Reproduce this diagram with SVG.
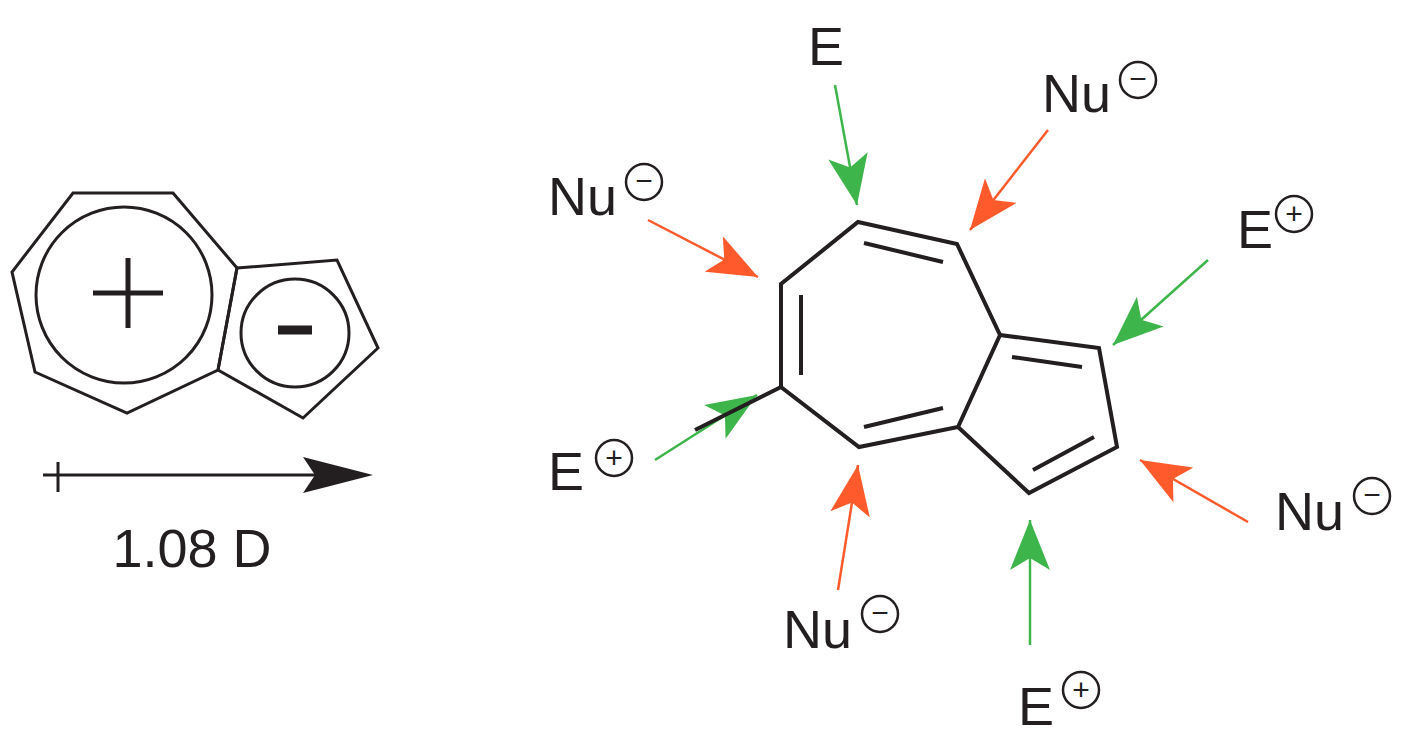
<svg xmlns="http://www.w3.org/2000/svg" width="1403" height="744" viewBox="0 0 1403 744">
<defs>
<style>
.b{fill:none;stroke:#231f20;stroke-width:4;stroke-linejoin:miter}
.t{font-family:"Liberation Sans",Arial,sans-serif;font-size:54px;fill:#231f20}
.c{fill:none;stroke:#231f20;stroke-width:2.5}
.s{font-family:"Liberation Sans",Arial,sans-serif;font-size:30px;fill:#231f20;text-anchor:middle}
.g{stroke:#3db54a;stroke-width:2.5}
.r{stroke:#ff5a2c;stroke-width:2.5}
</style>
<marker id="hg" viewBox="0 0 50 40" refX="50" refY="20" markerWidth="50" markerHeight="40" markerUnits="userSpaceOnUse" orient="auto"><path d="M0,0 L50,20 L0,40 L12,20 Z" fill="#3db54a"/></marker>
<marker id="hr" viewBox="0 0 50 40" refX="50" refY="20" markerWidth="50" markerHeight="40" markerUnits="userSpaceOnUse" orient="auto"><path d="M0,0 L50,20 L0,40 L12,20 Z" fill="#ff5a2c"/></marker>
</defs>
<rect width="1403" height="744" fill="#fff"/>
<g id="left-azulene">
<polygon class="b" style="stroke-width:3" points="73,193 173,193 237,268 218,370 127,413 35,372 12,272"/>
<polygon class="b" style="stroke-width:3" points="237,268 337,260 378,348 303,418 218,370"/>
<circle class="b" style="stroke-width:3" cx="124" cy="295" r="88"/>
<circle class="b" style="stroke-width:3" cx="295" cy="333" r="54"/>
<path d="M93,293 H163 M128,258 V328" stroke="#231f20" stroke-width="5"/>
<path d="M278,330 H312" stroke="#231f20" stroke-width="9"/>
</g>
<g id="dipole">
<path d="M43,475 H330 M58,462 V492" stroke="#231f20" stroke-width="3"/>
<path d="M373,475 L303,457 L315,475 L303,493 Z" fill="#231f20"/>
<text class="t" x="192" y="567" text-anchor="middle">1.08 D</text>
</g>
<g id="connectors">
<line class="g" x1="835" y1="85" x2="857" y2="205" marker-end="url(#hg)"/>
<line class="r" x1="1048" y1="130" x2="970" y2="230" marker-end="url(#hr)"/>
<line class="r" x1="648" y1="220" x2="758" y2="277" marker-end="url(#hr)"/>
<line class="g" x1="1208" y1="260" x2="1113" y2="345" marker-end="url(#hg)"/>
<line class="g" x1="655" y1="460" x2="757" y2="395" marker-end="url(#hg)"/>
<line class="r" x1="838" y1="590" x2="858" y2="465" marker-end="url(#hr)"/>
<line class="r" x1="1248" y1="522" x2="1140" y2="460" marker-end="url(#hr)"/>
<line class="g" x1="1030" y1="645" x2="1030" y2="520" marker-end="url(#hg)"/>
</g>
<g id="azulene">
<polygon class="b" points="858,222 957,244 1000,335 958,427 859,447 781,387 781,284"/>
<polyline class="b" points="1000,335 1099,348 1117,447 1029,493 958,427"/>
<path class="b" d="M864,243 L943,262 M801,295 V375 M864,427 L943,408 M1012,357 L1082,367 M1094,437 L1033,470 M781,387 L695,430"/>
</g>
<g id="labels">
<text class="t" x="808" y="65">E</text>
<text class="t" x="1042" y="112">Nu</text><circle class="c" cx="1138" cy="80" r="18"/><text class="s" x="1138" y="89">−</text>
<text class="t" x="548" y="215">Nu</text><circle class="c" cx="644" cy="182" r="18"/><text class="s" x="644" y="191">−</text>
<text class="t" x="1237" y="248">E</text><circle class="c" cx="1294" cy="214" r="18"/><text class="s" x="1294" y="224">+</text>
<text class="t" x="548" y="490">E</text><circle class="c" cx="614" cy="458" r="18"/><text class="s" x="614" y="468">+</text>
<text class="t" x="1275" y="530">Nu</text><circle class="c" cx="1372" cy="496" r="18"/><text class="s" x="1372" y="505">−</text>
<text class="t" x="783" y="648">Nu</text><circle class="c" cx="880" cy="614" r="18"/><text class="s" x="880" y="623">−</text>
<text class="t" x="1018" y="725">E</text><circle class="c" cx="1081" cy="690" r="18"/><text class="s" x="1081" y="700">+</text>
</g>
</svg>
